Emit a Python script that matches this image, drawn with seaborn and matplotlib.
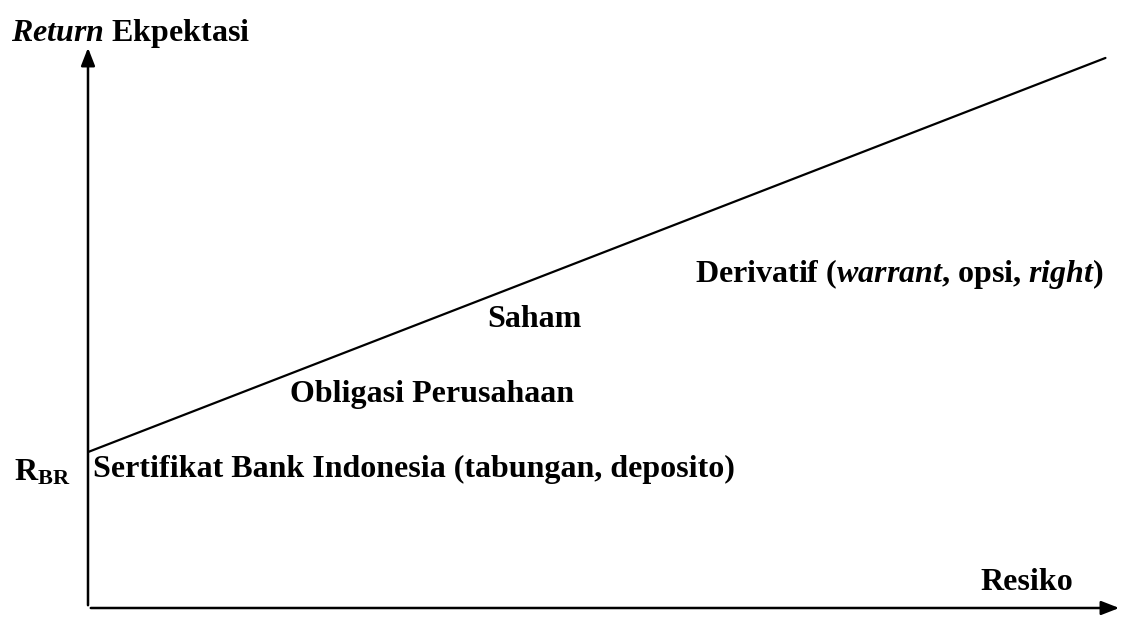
# Risk vs expected return diagram
import matplotlib
matplotlib.use("Agg")
import matplotlib.pyplot as plt
import seaborn as sns
import pandas as pd

# line: risk-free rate up to high risk instruments
risk = [0, 98.4]
expected_return = [27.7, 97.7]

# instrument labels, placed along the line (x, y in data units)
labels = [
    "Sertifikat Bank Indonesia (tabungan, deposito)",
    "Obligasi Perusahaan",
    "Saham",
    "Derivatif ($\\mathit{warrant}$, opsi, $\\mathit{right}$)",
]
label_x = [0.5, 19.5, 38.6, 58.7]
label_y = [24.6, 38.0, 51.3, 59.3]

y_title = "$\\mathit{Return}$ Ekpektasi"
x_title = "Resiko"
rf_label = "R$_{\\mathrm{BR}}$"

sns.set_theme(style="white")
plt.rcParams["font.family"] = ["Liberation Serif", "DejaVu Serif"]
plt.rcParams["font.weight"] = "bold"
plt.rcParams["text.color"] = "black"
plt.rcParams["mathtext.fontset"] = "custom"
plt.rcParams["mathtext.rm"] = "Liberation Serif:bold"
plt.rcParams["mathtext.it"] = "Liberation Serif:bold:italic"

fig = plt.figure(figsize=(11.25, 6.18), dpi=100)
ax = fig.add_axes([88 / 1125, 1 - 608 / 618, (1122 - 88) / 1125, (608 - 45) / 618])
ax.set_xlim(0, 100)
ax.set_ylim(0, 100)

df = pd.DataFrame({"risk": risk, "ret": expected_return})
sns.lineplot(data=df, x="risk", y="ret", color="black", linewidth=1.6, ax=ax)

# axes drawn as arrows
for sp in ax.spines.values():
    sp.set_visible(False)
arrow = dict(arrowstyle="-|>,head_length=0.9,head_width=0.35", color="black", lw=1.8)
ax.annotate("", xy=(0, 1.0), xytext=(0, 0), xycoords="axes fraction",
            arrowprops=arrow, annotation_clip=False)
ax.annotate("", xy=(1.0, 0), xytext=(0, 0), xycoords="axes fraction",
            arrowprops=arrow, annotation_clip=False)

ax.set_xticks([])
ax.set_yticks([])
ax.set_xlabel("")
ax.set_ylabel("")

fs = 23
for t, x, y in zip(labels, label_x, label_y):
    ax.text(x, y, t, fontsize=fs, fontweight="bold", ha="left", va="center")

ax.text(-4.4, 24.0, rf_label, fontsize=fs, fontweight="bold", ha="center", va="center",
        clip_on=False)
ax.text(-7.4, 102.0, y_title, fontsize=fs, fontweight="bold", ha="left", va="center",
        clip_on=False)
ax.text(90.8, 4.5, x_title, fontsize=fs, fontweight="bold", ha="center", va="center")

fig.savefig("out.png", dpi=100, facecolor="white")
